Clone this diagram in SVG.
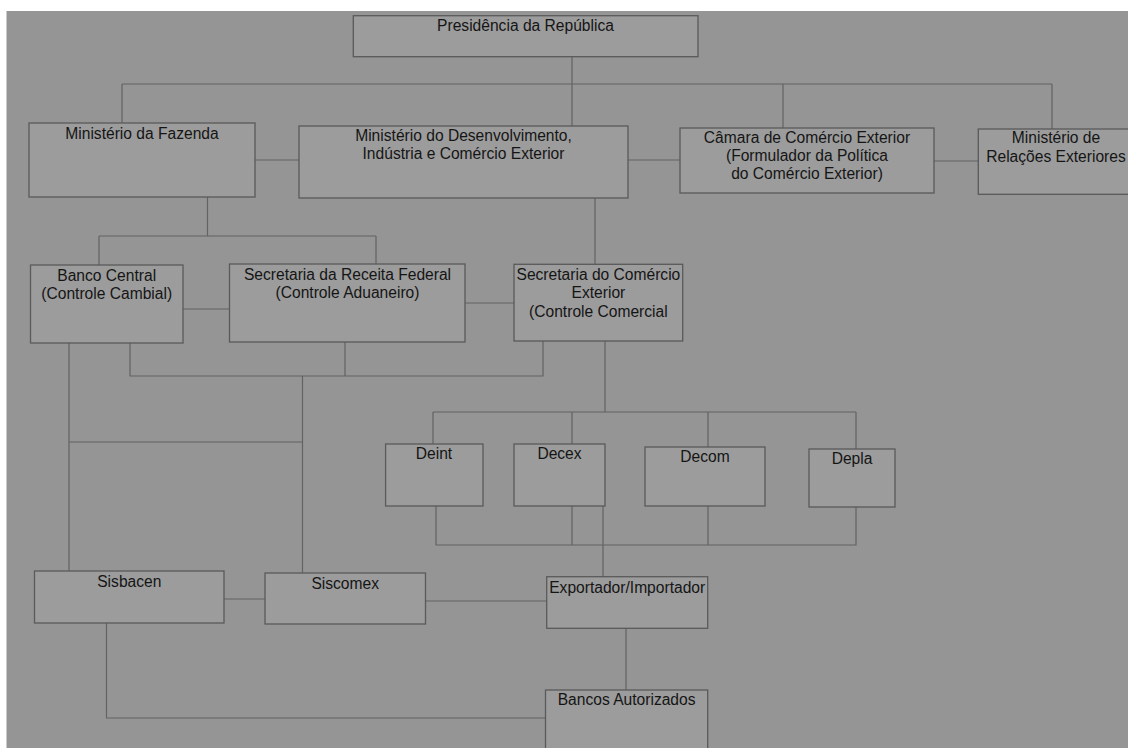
<svg xmlns="http://www.w3.org/2000/svg" width="1128" height="748" viewBox="0 0 1128 748">
<style>
.bg{fill:#959595}
.box{fill:#9c9c9c;stroke:#5a5a5a;stroke-width:1.3}
.ln{fill:none;stroke:#636363;stroke-width:1.2}
text{font-family:"Liberation Sans",Arial,sans-serif;font-size:15.6px;fill:#151515;text-anchor:middle}
</style>
<rect x="0" y="0" width="1128" height="748" fill="#ffffff"/>
<rect class="bg" x="6.5" y="11" width="1121.5" height="737"/>
<g id="connectors">
<path class="ln" d="M572 57 V126 M122 84 H1052 M122 84 V123 M783 84 V128 M1052 84 V129"/>
<path class="ln" d="M255 160 H299 M628 160 H680 M934 161 H978"/>
<path class="ln" d="M207.5 197 V236 M99 236 H376 M99 236 V265 M376 236 V264 M595 198 V264"/>
<path class="ln" d="M183 309 H229.5 M465 303 H514"/>
<path class="ln" d="M130 343 V376 H543 V341 M345 342 V376 M302.5 376 V573 M69 343 V571 M69 442 H302.5"/>
<path class="ln" d="M605 341 V412 M433 412 H856 M433 412 V444 M572 412 V444 M708 412 V447 M856 412 V449"/>
<path class="ln" d="M436 506 V545 H856 V507 M572 506 V545 M708 506 V545 M603 506 V576.7"/>
<path class="ln" d="M224 599 H265 M425.5 601 H547 M626 628 V690 M106.5 623 V718 H545"/>
</g>
<g id="presidencia"><rect class="box" x="353.3" y="15.7" width="344.7" height="41"/><text x="525.5" y="31">Presidência da República</text></g>
<g id="fazenda"><rect class="box" x="29" y="123" width="226" height="74"/><text x="142" y="138.5">Ministério da Fazenda</text></g>
<g id="mdic"><rect class="box" x="299" y="126" width="329" height="72"/><text x="463.5" y="141">Ministério do Desenvolvimento,</text><text x="463.5" y="158.5">Indústria e Comércio Exterior</text></g>
<g id="camex"><rect class="box" x="680" y="128" width="254" height="65"/><text x="807" y="142.7">Câmara de Comércio Exterior</text><text x="807" y="160.7">(Formulador da Política</text><text x="807" y="178.7">do Comércio Exterior)</text></g>
<g id="mre"><rect class="box" x="978.3" y="129" width="165" height="65.3"/><text x="1056" y="143">Ministério de</text><text x="1056" y="161.5">Relações Exteriores</text></g>
<g id="bacen"><rect class="box" x="30.5" y="265" width="152.5" height="78"/><text x="106.7" y="280.5">Banco Central</text><text x="106.7" y="298.8">(Controle Cambial)</text></g>
<g id="srf"><rect class="box" x="229.5" y="264" width="235.5" height="78"/><text x="347.5" y="280">Secretaria da Receita Federal</text><text x="347.5" y="298">(Controle Aduaneiro)</text></g>
<g id="secex"><rect class="box" x="514" y="264.3" width="168.7" height="76.7"/><text x="598.4" y="280">Secretaria do Comércio</text><text x="598.4" y="298">Exterior</text><text x="598.4" y="316.5">(Controle Comercial</text></g>
<g id="deint"><rect class="box" x="385.6" y="444" width="97.4" height="62"/><text x="434" y="459.3">Deint</text></g>
<g id="decex"><rect class="box" x="514" y="444" width="91" height="62"/><text x="559.5" y="459.3">Decex</text></g>
<g id="decom"><rect class="box" x="645" y="447" width="120" height="59"/><text x="705" y="462">Decom</text></g>
<g id="depla"><rect class="box" x="809" y="449" width="86" height="58"/><text x="852" y="464">Depla</text></g>
<g id="sisbacen"><rect class="box" x="34.5" y="571" width="189.5" height="52"/><text x="129.3" y="587">Sisbacen</text></g>
<g id="siscomex"><rect class="box" x="265" y="573" width="160.5" height="51"/><text x="345.2" y="589">Siscomex</text></g>
<g id="exportador"><rect class="box" x="546.7" y="576.7" width="161" height="51.6"/><text x="627.2" y="592.7">Exportador/Importador</text></g>
<g id="bancos"><rect class="box" x="545.5" y="690" width="162.2" height="62"/><text x="626.6" y="705">Bancos Autorizados</text></g>
</svg>
